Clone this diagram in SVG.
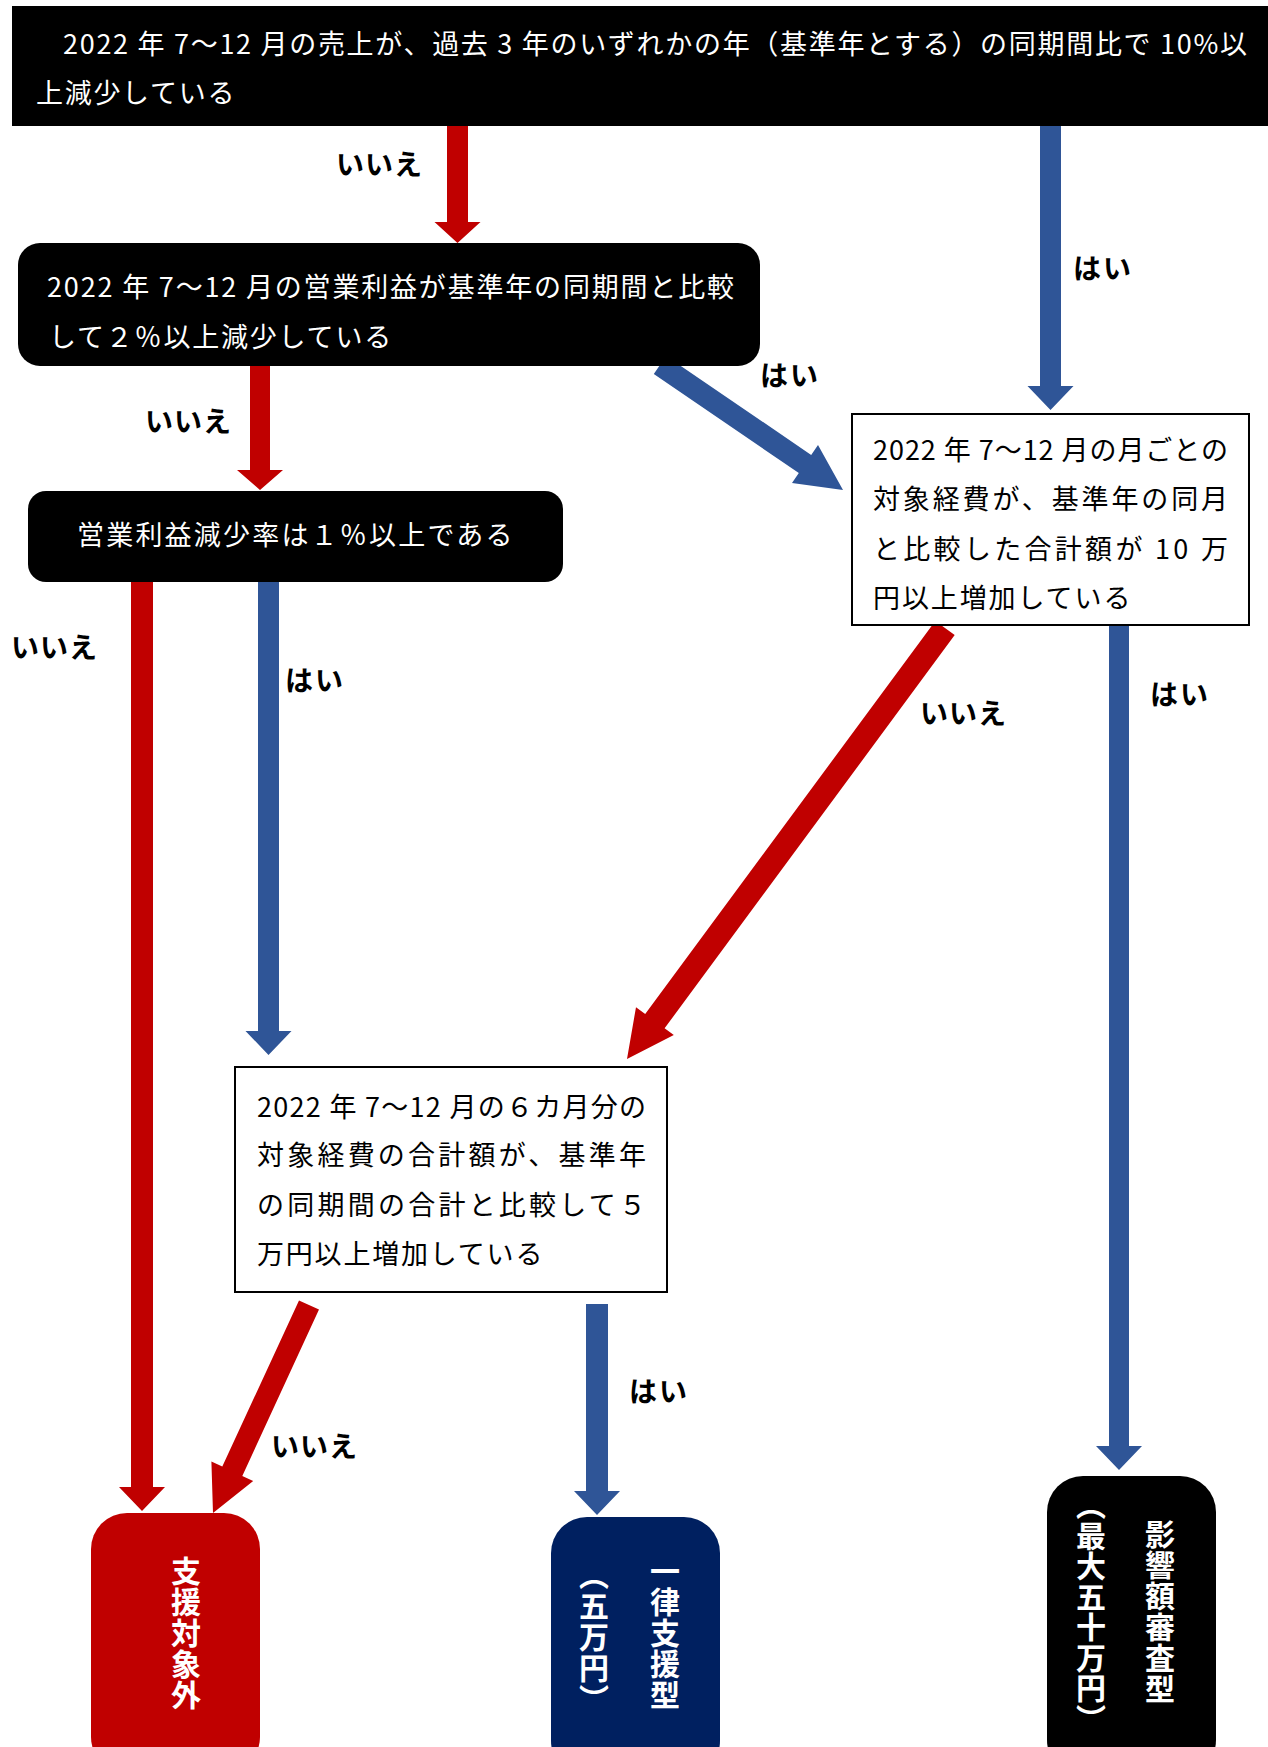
<svg xmlns="http://www.w3.org/2000/svg" width="1268" height="1747" viewBox="0 0 1268 1747">
<style>
.t{font-family:"Noto Sans CJK JP","Noto Sans",sans-serif;font-size:27px;dominant-baseline:central}
.w{fill:#fff}
.k{fill:#000}
.lb{font-family:"Noto Sans CJK JP","Noto Sans",sans-serif;font-size:28px;font-weight:700;fill:#000;dominant-baseline:central;letter-spacing:1px}
.v{font-family:"Noto Sans CJK JP","Noto Sans",sans-serif;font-size:30px;font-weight:700;fill:#fff;writing-mode:vertical-rl;letter-spacing:1px}
.red{fill:#C00000}
.blue{fill:#2F5597}
.wb{fill:#fff;stroke:#000;stroke-width:2}
</style>
<rect width="1268" height="1747" fill="#fff"/>
<g id="connectors">
<polygon class="red" points="447,126 447,222 434.5,222 457.5,243 480.5,222 468,222 468,126"/>
<polygon class="blue" points="1040,126 1040,386 1027.5,386 1050.5,410 1073.5,386 1061,386 1061,126"/>
<polygon class="red" points="250,366 250,470 237,470 260,490 283,470 270,470 270,366"/>
<polygon class="blue" points="653.8,374.1 798.8,473.1 792,483.1 843,490 818,445.1 811.2,455 666.2,355.9"/>
<polygon class="red" points="131,582 131,1487 119,1487 142,1511 165,1487 153,1487 153,582"/>
<polygon class="blue" points="258,582 258,1031 245.5,1031 268.5,1055 291.5,1031 279,1031 279,582"/>
<polygon class="blue" points="1109,626 1109,1446 1096,1446 1119,1470 1142,1446 1129,1446 1129,626"/>
<polygon class="red" points="935.3,620.9 645.2,1014.1 636,1007.2 627,1059 673.8,1035.1 664.6,1028.3 954.7,635.1"/>
<polygon class="red" points="299,1300.4 222.3,1466.6 211.4,1461.6 213,1513 253.2,1480.9 242.3,1475.9 319,1309.6"/>
<polygon class="blue" points="586,1304 586,1491 574,1491 597,1515 620,1491 608,1491 608,1304"/>
<text class="lb" x="336" y="163">いいえ</text>
<text class="lb" x="145" y="420">いいえ</text>
<text class="lb" x="760" y="374" style="letter-spacing:2px">はい</text>
<text class="lb" x="1073" y="267" style="letter-spacing:2px">はい</text>
<text class="lb" x="11" y="646">いいえ</text>
<text class="lb" x="285" y="679" style="letter-spacing:2px">はい</text>
<text class="lb" x="920" y="712">いいえ</text>
<text class="lb" x="1150" y="693" style="letter-spacing:2px">はい</text>
<text class="lb" x="271" y="1445">いいえ</text>
<text class="lb" x="629" y="1390" style="letter-spacing:2px">はい</text>
</g>
<g id="n1">
<rect x="12" y="6" width="1256" height="120" fill="#000"/>
<text class="t w" x="63" y="42" textLength="1184" lengthAdjust="spacing">2022 年 7〜12 月の売上が、過去 3 年のいずれかの年（基準年とする）の同期間比で 10%以</text>
<text class="t w" x="36" y="91" style="letter-spacing:1.7px">上減少している</text>
</g>
<g id="n2">
<rect x="18" y="243" width="742" height="123" rx="22" fill="#000"/>
<text class="t w" x="47" y="285" textLength="687" lengthAdjust="spacing">2022 年 7〜12 月の営業利益が基準年の同期間と比較</text>
<text class="t w" x="49" y="335" style="letter-spacing:1.8px">して２％以上減少している</text>
</g>
<g id="n3">
<rect x="28" y="491" width="535" height="91" rx="18" fill="#000"/>
<text class="t w" x="77" y="533" style="letter-spacing:2.2px">営業利益減少率は１％以上である</text>
</g>
<g id="n4">
<rect class="wb" x="852" y="414" width="397" height="211"/>
<text class="t k" x="873" y="448" textLength="355" lengthAdjust="spacing">2022 年 7〜12 月の月ごとの</text>
<text class="t k" x="873" y="497" textLength="355" lengthAdjust="spacing">対象経費が、基準年の同月</text>
<text class="t k" x="873" y="547" textLength="355" lengthAdjust="spacing">と比較した合計額が 10 万</text>
<text class="t k" x="873" y="596" style="letter-spacing:1.9px">円以上増加している</text>
</g>
<g id="n5">
<rect class="wb" x="235" y="1067" width="432" height="225"/>
<text class="t k" x="257" y="1105" textLength="389" lengthAdjust="spacing">2022 年 7〜12 月の６カ月分の</text>
<text class="t k" x="257" y="1153" textLength="389" lengthAdjust="spacing">対象経費の合計額が、基準年</text>
<text class="t k" x="257" y="1203" textLength="389" lengthAdjust="spacing">の同期間の合計と比較して５</text>
<text class="t k" x="257" y="1252" style="letter-spacing:1.8px">万円以上増加している</text>
</g>
<g id="n6">
<rect x="91" y="1513" width="169" height="260" rx="36" fill="#C00000"/>
<text class="v" x="186" y="1556">支援対象外</text>
</g>
<g id="n7">
<rect x="551" y="1517" width="169" height="260" rx="36" fill="#002060"/>
<text class="v" x="665" y="1556">一律支援型</text>
<text class="v" x="594" y="1560">（五万円）</text>
</g>
<g id="n8">
<rect x="1047" y="1476" width="169" height="300" rx="36" fill="#000"/>
<text class="v" x="1160" y="1519">影響額審査型</text>
<text class="v" x="1091" y="1490" style="letter-spacing:0.5px">（最大五十万円）</text>
</g>
</svg>
